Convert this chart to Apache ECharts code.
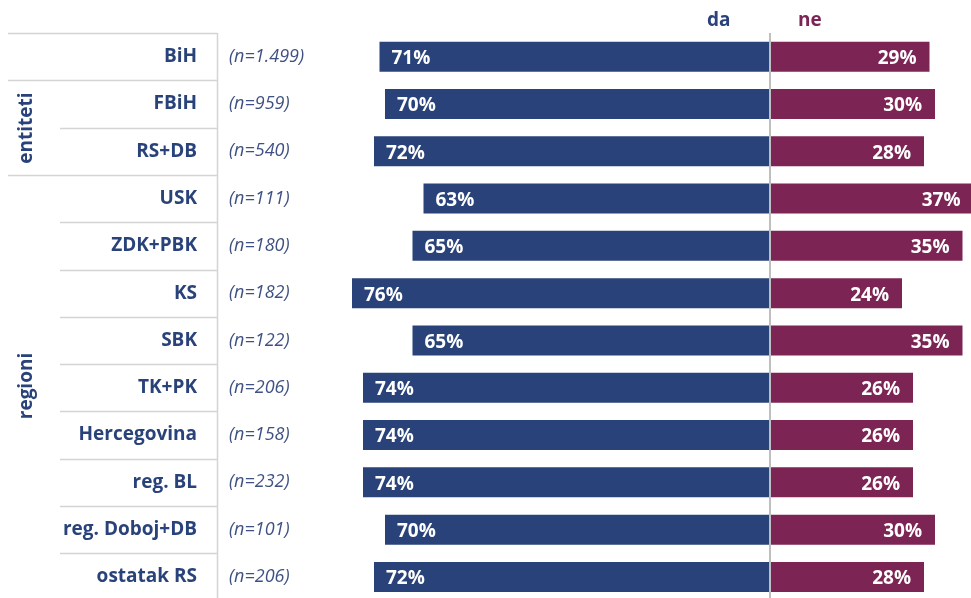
<!DOCTYPE html>
<html style="height: 100%">
<head>
    <meta charset="utf-8">
</head>
<body style="height: 100%; margin: 0; background: #fff">
    <div id="container" style="width: 971px; height: 598px"></div>
    <script type="text/javascript" src="https://cdn.jsdelivr.net/npm/echarts@6/dist/echarts.min.js"></script>
    <script type="text/javascript">
        var categories = ['BiH', 'FBiH', 'RS+DB', 'USK', 'ZDK+PBK', 'KS', 'SBK', 'TK+PK',
            'Hercegovina', 'reg. BL', 'reg. Doboj+DB', 'ostatak RS'];
        var sampleSizes = ['(n=1.499)', '(n=959)', '(n=540)', '(n=111)', '(n=180)', '(n=182)',
            '(n=122)', '(n=206)', '(n=158)', '(n=232)', '(n=101)', '(n=206)'];
        var daValues = [71, 70, 72, 63, 65, 76, 65, 74, 74, 74, 70, 72];
        var neValues = [29, 30, 28, 37, 35, 24, 35, 26, 26, 26, 30, 28];

        var navy = '#29437a';
        var plum = '#7c2554';
        var font = 'Open Sans';

        // layout of the table rows (not "top": that name is taken by window.top)
        var gridTop = 33;
        var rowH = 47.3;
        var gridH = rowH * categories.length;

        var dom = document.getElementById('container');
        var myChart = echarts.init(dom);

        // table rules on the left
        var rules = [];
        for (var i = 0; i < categories.length; i++) {
            var y = Math.round(gridTop + rowH * i) + 0.5;
            var fromX = (i === 0 || i === 1 || i === 3) ? 8 : 60;
            rules.push({
                type: 'line', silent: true,
                shape: { x1: fromX, y1: y, x2: 217, y2: y },
                style: { stroke: '#d4d4d4', lineWidth: 1.5 }
            });
        }
        rules.push({
            type: 'line', silent: true,
            shape: { x1: 217.5, y1: gridTop, x2: 217.5, y2: 598 },
            style: { stroke: '#d4d4d4', lineWidth: 1.5 }
        });

        var option = {
            backgroundColor: '#fff',
            animation: false,
            textStyle: { fontFamily: font },
            grid: {
                left: 330, width: 660, top: gridTop, height: gridH,
                outerBoundsMode: 'none', containLabel: false
            },
            xAxis: {
                type: 'value', min: -80, max: 40,
                show: false
            },
            yAxis: [{
                type: 'category', data: categories, inverse: true,
                position: 'left',
                axisLine: { show: false }, axisTick: { show: false },
                axisLabel: {
                    margin: 133, color: navy, fontWeight: 'bold', fontSize: 19,
                    fontFamily: font, padding: [4, 0, 0, 0]
                }
            }, {
                type: 'category', data: sampleSizes, inverse: true,
                position: 'left',
                axisLine: { show: false }, axisTick: { show: false },
                axisLabel: {
                    margin: 101, align: 'left', color: '#3f5183', fontStyle: 'italic',
                    fontSize: 18, fontFamily: font, padding: [4, 0, 0, 0]
                }
            }],
            series: [{
                name: 'da', type: 'bar', barWidth: 30, barGap: '-100%',
                data: daValues.map(function (v) { return -v; }),
                itemStyle: { color: navy },
                label: {
                    show: true, position: 'insideLeft', distance: 12, offset: [0, 2],
                    color: '#fff', fontWeight: 'bold', fontSize: 19, fontFamily: font,
                    formatter: function (p) { return Math.abs(p.value) + '%'; }
                },
                markLine: {
                    silent: true, symbol: 'none', label: { show: false },
                    lineStyle: { color: '#bfbfbf', width: 2, type: 'solid' },
                    data: [{ xAxis: 0 }]
                }
            }, {
                name: 'ne', type: 'bar', barWidth: 30, barGap: '-100%', clip: false,
                data: neValues,
                itemStyle: { color: plum },
                label: {
                    show: true, position: 'insideRight', distance: 13, offset: [0, 2],
                    color: '#fff', fontWeight: 'bold', fontSize: 19, fontFamily: font,
                    formatter: '{c}%'
                }
            }],
            graphic: rules.concat([{
                type: 'text', left: 707, top: 11,
                style: { text: 'da', fill: navy, font: 'bold 19px "Open Sans"' }
            }, {
                type: 'text', left: 798, top: 11,
                style: { text: 'ne', fill: plum, font: 'bold 19px "Open Sans"' }
            }, {
                type: 'text', x: 27, y: 128, rotation: Math.PI / 2,
                style: {
                    text: 'entiteti', fill: navy, font: 'bold 19px "Open Sans"',
                    align: 'center', verticalAlign: 'middle'
                }
            }, {
                type: 'text', x: 27, y: 386, rotation: Math.PI / 2,
                style: {
                    text: 'regioni', fill: navy, font: 'bold 19px "Open Sans"',
                    align: 'center', verticalAlign: 'middle'
                }
            }])
        };
        myChart.setOption(option);
    </script>
</body>
</html>
